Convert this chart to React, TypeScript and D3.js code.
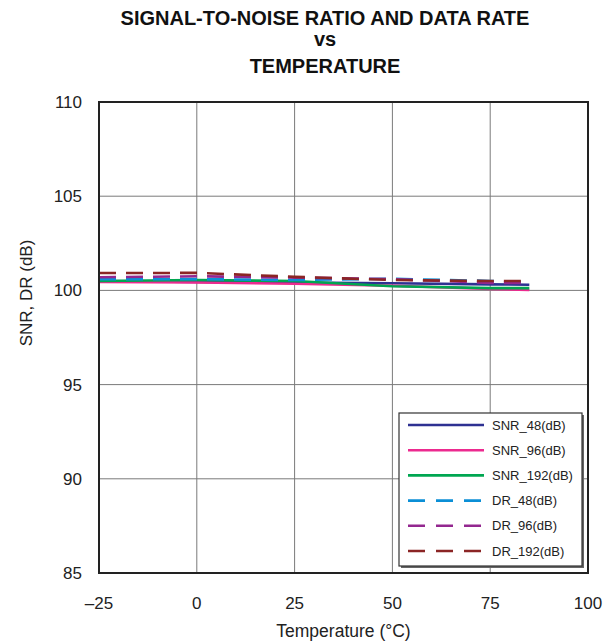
import React from "react";
import * as d3 from "d3";

const temps = [-25, 0, 25, 50, 75, 85];
const snr48 = [100.5, 100.45, 100.42, 100.38, 100.32, 100.3];
const snr96 = [100.45, 100.42, 100.35, 100.25, 100.08, 100.02];
const snr192 = [100.5, 100.55, 100.5, 100.22, 100.12, 100.12];
const dr48 = [100.6, 100.6, 100.55, 100.62, 100.5, 100.45];
const dr96 = [100.7, 100.75, 100.68, 100.6, 100.4, 100.4];
const dr192 = [100.92, 100.93, 100.72, 100.55, 100.5, 100.5];

const seriesNames = ["SNR_48(dB)", "SNR_96(dB)", "SNR_192(dB)", "DR_48(dB)", "DR_96(dB)", "DR_192(dB)"];
const seriesValues = [snr48, snr96, snr192, dr48, dr96, dr192];
const seriesColors = ["#2e3192", "#ec2a8f", "#00a651", "#0b8fd6", "#93278f", "#8b2525"];
const seriesDashed = [false, false, false, true, true, true];

const xTicks = [-25, 0, 25, 50, 75, 100];
const yTicks = [85, 90, 95, 100, 105, 110];

export default function App() {
  const W = 615, H = 643;
  const left = 99, right = 588, top = 102, bottom = 573;
  const x = d3.scaleLinear().domain([-25, 100]).range([left, right]);
  const y = d3.scaleLinear().domain([85, 110]).range([bottom, top]);
  const line = d3.line<[number, number]>().x(d => x(d[0])).y(d => y(d[1]));
  const font = "'Liberation Sans', Arial, Helvetica, sans-serif";
  const fmt = (v: number) => (v < 0 ? "\u2013" + Math.abs(v) : String(v));

  const legX = 399, legY = 413, legW = 183, legH = 153;
  const rowY = (i: number) => 425 + i * 25.2;

  return (
    <svg width={W} height={H} style={{ position: "absolute", left: 0, top: 0 }} fontFamily={font}>
      <rect width={W} height={H} fill="#fff" />
      <g fontWeight="bold" fontSize={20} textAnchor="middle" fill="#111">
        <text x={325} y={25}>SIGNAL-TO-NOISE RATIO AND DATA RATE</text>
        <text x={325} y={46}>vs</text>
        <text x={325} y={73}>TEMPERATURE</text>
      </g>
      {xTicks.slice(1, -1).map(t => (
        <line key={"gx" + t} x1={x(t)} x2={x(t)} y1={top} y2={bottom} stroke="#7a7a7a" strokeWidth={1} />
      ))}
      {yTicks.slice(1, -1).map(t => (
        <line key={"gy" + t} x1={left} x2={right} y1={y(t)} y2={y(t)} stroke="#7a7a7a" strokeWidth={1} />
      ))}
      {seriesValues.map((vals, i) => (
        <path
          key={"s" + i}
          d={line(temps.map((t, j) => [t, vals[j]] as [number, number])) || ""}
          fill="none"
          stroke={seriesColors[i]}
          strokeWidth={2.6}
          strokeDasharray={seriesDashed[i] ? "17,10" : undefined}
        />
      ))}
      <rect x={left} y={top} width={right - left} height={bottom - top} fill="none" stroke="#222" strokeWidth={2} />
      <g fontSize={17} fill="#222">
        {yTicks.map(t => (
          <text key={"yl" + t} x={82} y={y(t) + 6} textAnchor="end">{fmt(t)}</text>
        ))}
        {xTicks.map(t => (
          <text key={"xl" + t} x={x(t)} y={609} textAnchor="middle">{fmt(t)}</text>
        ))}
        <text x={343.5} y={637} textAnchor="middle" fontSize={17.5}>Temperature (°C)</text>
        <text transform={`translate(32,293) rotate(-90)`} textAnchor="middle">SNR, DR (dB)</text>
      </g>
      <rect x={legX + 2} y={legY + 2} width={legW} height={legH} fill="#666" />
      <rect x={legX} y={legY} width={legW} height={legH} fill="#fff" stroke="#333" strokeWidth={1.2} />
      {seriesNames.map((n, i) => (
        <g key={"lg" + i}>
          <line x1={408} x2={484} y1={rowY(i)} y2={rowY(i)} stroke={seriesColors[i]} strokeWidth={2.6}
            strokeDasharray={seriesDashed[i] ? "17,11" : undefined} />
          <text x={492} y={rowY(i) + 4.5} fontSize={13} fill="#222">{n}</text>
        </g>
      ))}
    </svg>
  );
}
